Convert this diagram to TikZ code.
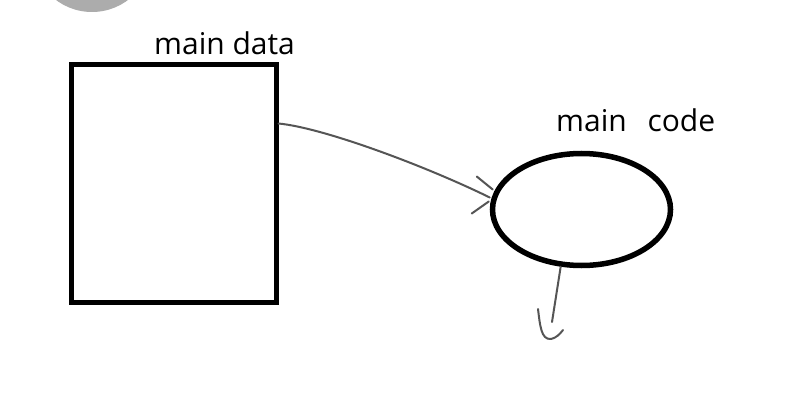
\documentclass[tikz,border=0pt]{standalone}
\usepackage{fontspec}
\setmainfont{Open Sans}
\usetikzlibrary{shapes.geometric}
\definecolor{blob}{RGB}{172,172,172}
\definecolor{pen}{RGB}{85,85,85}
\begin{document}
\begin{tikzpicture}[x=1pt,y=-1pt,
  box/.style={draw=black, line width=5pt, minimum width=205pt, minimum height=237pt, inner sep=0pt},
  oval/.style={ellipse, draw=black, line width=5.5pt, minimum width=178pt, minimum height=112pt, inner sep=0pt},
  lbl/.style={font=\fontsize{30}{32}\selectfont, inner sep=0pt, text=black},
  stroke/.style={draw=pen, line width=2pt, line cap=round, line join=round}]
\clip (0,0) rectangle (794,406);
\fill[white] (0,0) rectangle (794,406);
\fill[blob] (92,-48) circle[radius=60];
\node[box] (data) at (173.5,183.5) {};
\node[oval] (code) at (581.5,209.5) {};
\node[lbl, anchor=base west] (datalbl) at (154,55) {main data};
\node[lbl, anchor=base west] (codelbl) at (556,132) {main\hspace{13pt} code};
\coordinate (tip) at ([yshift=12pt]code.west);
\draw[stroke] ([yshift=60pt]data.east) .. controls (325,128) and (430,168) .. (tip);
\draw[stroke] ([shift={(-13,-21)}]tip) -- ([shift={(3,-8)}]tip);
\draw[stroke] ([shift={(-18,16)}]tip) -- ([shift={(-1,4)}]tip);
\coordinate (hook) at (538,309);
\draw[stroke] (code.250) -- (552,322);
\draw[stroke] (hook) .. controls (540,325) and (541,340) .. (551,339) .. controls (556,338) and (560,334) .. (563,330);
\end{tikzpicture}
\end{document}
